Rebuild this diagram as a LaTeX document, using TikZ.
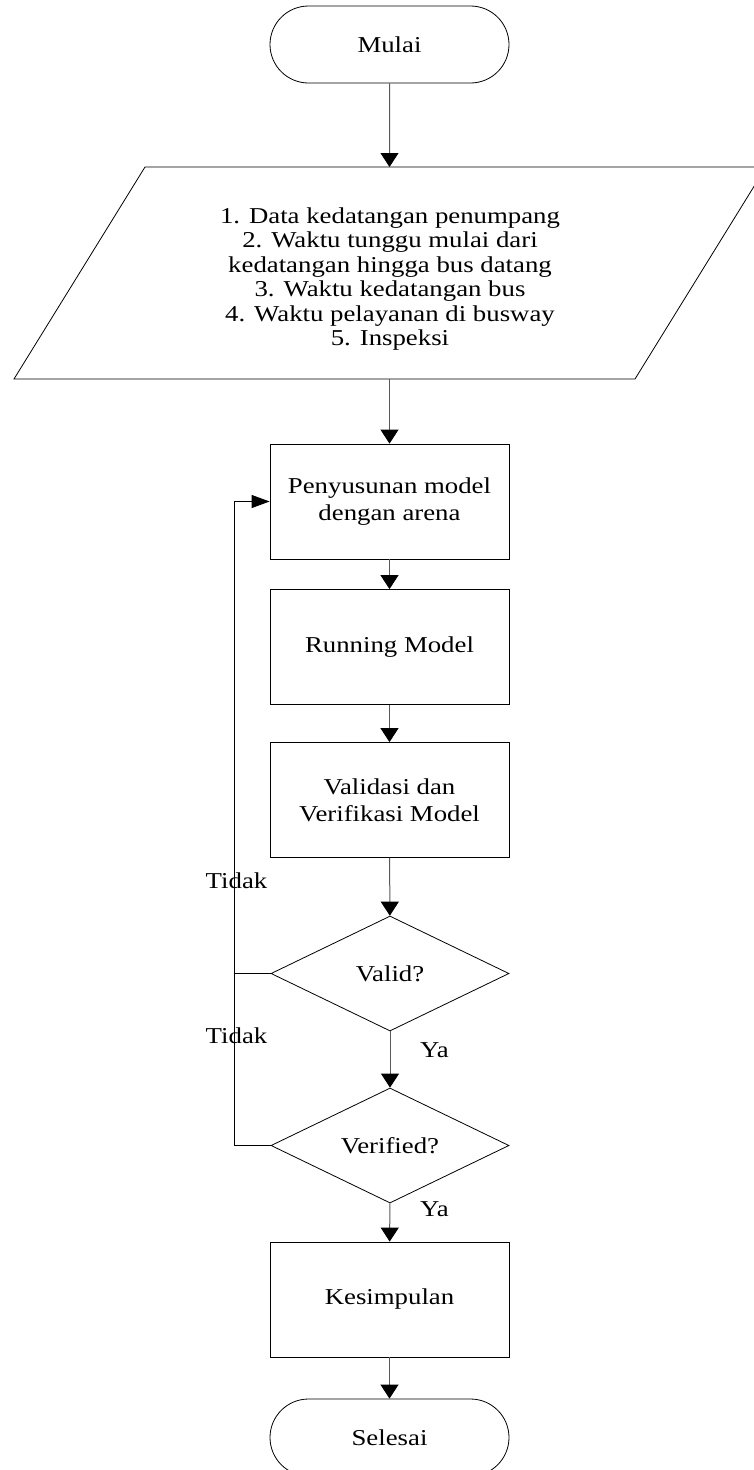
\documentclass[tikz,border=0pt]{standalone}
\usepackage{fontspec}
\setmainfont{Liberation Serif}[FakeStretch=1.18]
\usetikzlibrary{arrows.meta,shapes.misc,shapes.geometric}
\begin{document}
\begin{tikzpicture}[x=1pt,y=-1pt,
  every node/.style={font=\fontsize{22.7}{27}\selectfont},
  proc/.style={draw=black, line width=0.8pt, rectangle, minimum width=239pt, minimum height=115pt, align=center, inner sep=0pt},
  term/.style={draw=black, line width=0.8pt, rounded rectangle, minimum width=239pt, minimum height=77pt, inner sep=0pt},
  dec/.style={draw=black, line width=0.8pt, diamond, minimum width=238pt, minimum height=115pt, inner sep=0pt},
  conn/.style={draw=black!65, line width=1pt, -{Triangle[width=18pt,length=14pt,color=black]}},
  loopconn/.style={draw=black, line width=1pt, -{Triangle[width=13pt,length=18pt,color=black]}},
  loopline/.style={draw=black, line width=1pt},
  lbl/.style={inner sep=0pt}]
\useasboundingbox (0,0) rectangle (753,1470);

% nodes
\node[term] (mulai) at (389.5,44.5) {Mulai};

\coordinate (pa) at (145,167);
\coordinate (pb) at (766,167);
\coordinate (pc) at (635,379);
\coordinate (pd) at (14,379);
\coordinate (ptop) at (389.5,167);
\coordinate (pbot) at (389.5,379);
\draw[line width=0.8pt] (pa) -- (pb) -- (pc) -- (pd) -- cycle;
\node[align=center, font=\fontsize{22.7}{24.5}\selectfont] (data) at (390,279)
  {1. Data kedatangan penumpang\\2. Waktu tunggu mulai dari\\kedatangan hingga bus datang\\3. Waktu kedatangan bus\\4. Waktu pelayanan di busway\\5. Inspeksi};

\node[proc] (susun) at (389.5,501.5) {Penyusunan model\\dengan arena};
\node[proc] (run) at (389.5,647) {Running Model};
\node[proc] (valver) at (389.5,800) {Validasi dan\\Verifikasi Model};
\node[dec] (valid) at (390,973.5) {Valid?};
\node[dec] (verif) at (390,1145.5) {Verified?};
\node[proc] (kes) at (389.5,1299.5) {Kesimpulan};
\node[term] (selesai) at (389.5,1437.5) {Selesai};

% connectors
\draw[conn] (mulai) -- (ptop);
\draw[conn] (pbot) -- (susun);
\draw[conn] (susun) -- (run);
\draw[conn] (run) -- (valver);
\draw[conn] (valver) -- (valid);
\draw[conn] (valid) -- (verif);
\draw[conn] (verif) -- (kes);
\draw[conn] (kes) -- (selesai);

\coordinate (lp) at (234,973.5);
\draw[loopconn] (valid.west) -- (lp) |- (susun.west);
\draw[loopline] (verif.west) -| (lp);

% labels
\node[lbl] (t1) at (236.5,881) {Tidak};
\node[lbl] (t2) at (236.5,1036) {Tidak};
\node[lbl] (y1) at (434.5,1050) {Ya};
\node[lbl] (y2) at (434.5,1209) {Ya};
\end{tikzpicture}
\end{document}
